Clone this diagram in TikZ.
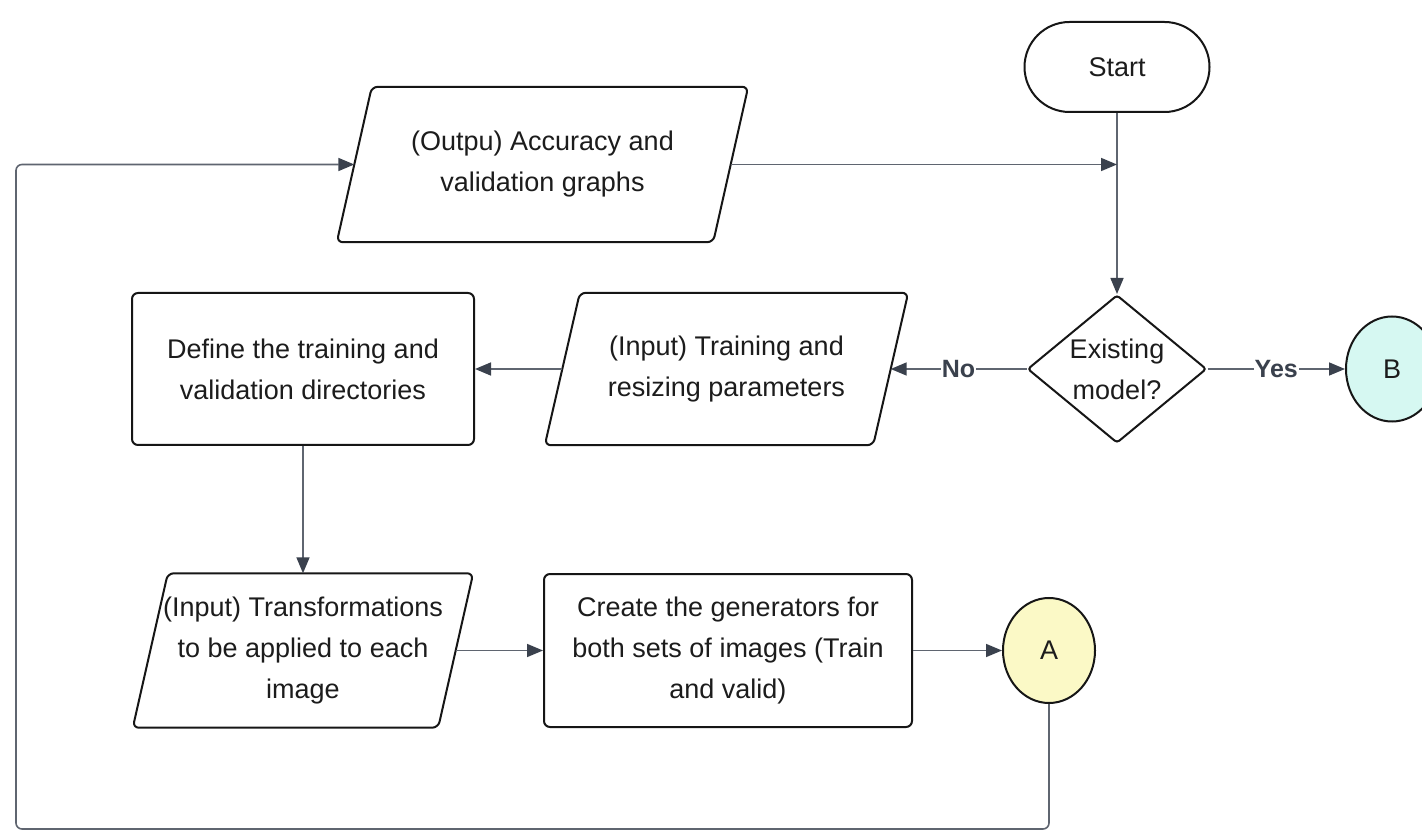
\documentclass[tikz,border=0pt]{standalone}
\usepackage{fontspec}
\setmainfont{Liberation Sans}
\usetikzlibrary{arrows.meta,shapes.geometric,calc}
\definecolor{linec}{HTML}{5F6570}
\definecolor{arrc}{HTML}{3A414D}
\definecolor{fillA}{HTML}{FBF9C6}
\definecolor{fillB}{HTML}{D6F8F2}
\definecolor{edgec}{HTML}{161616}
\definecolor{textc}{HTML}{1C1C1C}
\begin{document}
\begin{tikzpicture}[x=1pt,y=1pt,
  txt/.style={align=center,font=\fontsize{27pt}{41pt}\selectfont, text=textc},
  proc/.style={txt, draw=edgec, line width=2pt, rounded corners=6pt, inner sep=0pt},
  iobox/.style={txt, inner sep=0pt},
  iodraw/.style={draw=edgec, line width=2pt, rounded corners=6pt, line join=round},
  circ/.style={txt, ellipse, draw=edgec, line width=2pt, minimum width=92pt, minimum height=105pt, inner sep=0pt},
  conn/.style={draw=linec, line width=1.6pt, -{Triangle[length=16pt,width=13pt,color=arrc]}},
  lbl/.style={fill=white, inner sep=1pt, font=\fontsize{25pt}{28pt}\selectfont\bfseries, text=arrc}
]
\useasboundingbox (0,0) rectangle (1422,831);
\fill[white] (0,0) rectangle (1422,831);

\node[proc, rounded corners=45pt, minimum width=185pt, minimum height=90pt] (start) at (1117,764) {Start};

\node[iobox, minimum width=376pt, minimum height=155pt] (out) at (542.5,666.5) {(Outpu) Accuracy and\\validation graphs};
\draw[iodraw] ([xshift=-17.5pt]out.south west) -- ([xshift=17.5pt]out.north west) -- ([xshift=17.5pt]out.north east) -- ([xshift=-17.5pt]out.south east) -- cycle;

\node[draw=edgec, line width=2pt, diamond, minimum width=179pt, minimum height=148pt, inner sep=0pt, rounded corners=3pt] (dec) at (1117,462) {};
\node[txt] (dect) at (dec.center) {Existing\\model?};

\node[iobox, minimum width=328pt, minimum height=152pt] (inp) at (726.5,462) {(Input) Training and\\resizing parameters};
\draw[iodraw] ([xshift=-17.5pt]inp.south west) -- ([xshift=17.5pt]inp.north west) -- ([xshift=17.5pt]inp.north east) -- ([xshift=-17.5pt]inp.south east) -- cycle;

\node[proc, minimum width=342pt, minimum height=152pt] (def) at (303,462) {Define the training and\\validation directories};

\node[iobox, minimum width=305pt, minimum height=154pt] (trans) at (303,180.5) {(Input) Transformations\\to be applied to each\\image};
\draw[iodraw] ([xshift=-17.5pt]trans.south west) -- ([xshift=17.5pt]trans.north west) -- ([xshift=17.5pt]trans.north east) -- ([xshift=-17.5pt]trans.south east) -- cycle;

\node[proc, minimum width=368pt, minimum height=153pt] (create) at (728,180.5) {Create the generators for\\both sets of images (Train\\and valid)};

\node[circ, fill=fillA] (A) at (1049,180.5) {A};
\node[circ, fill=fillB] (B) at (1392,462) {B};

\coordinate (lb) at (16,2);

\draw[conn] (start.south) -- (dec.north);
\draw[conn] (out.east) -- (out.east -| start.south);
\draw[conn] (dec.west) -- node[lbl]{No} (inp.east);
\draw[conn] (dec.east) -- node[lbl]{Yes} (B.west);
\draw[conn] (inp.west) -- (def.east);
\draw[conn] (def.south) -- (trans.north);
\draw[conn] (trans.east) -- (create.west);
\draw[conn] (create.east) -- (A.west);
\draw[conn, rounded corners=6pt] (A.south) |- (lb) |- (out.west);
\end{tikzpicture}
\end{document}
